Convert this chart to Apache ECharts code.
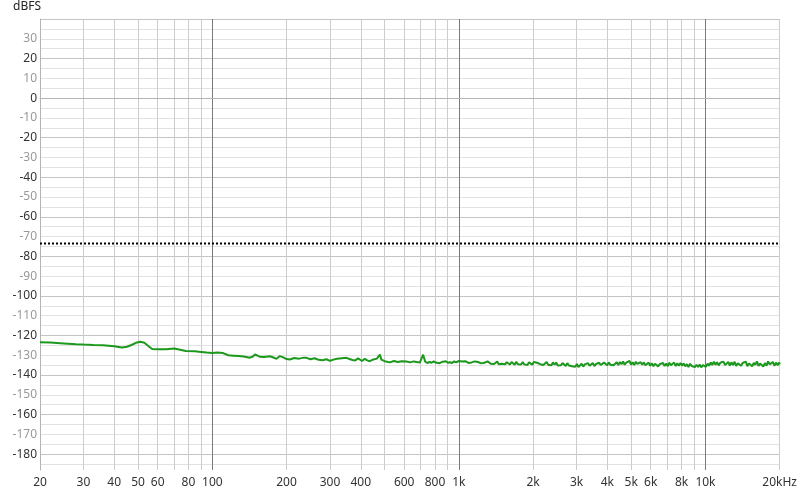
<!DOCTYPE html>
<html>
<head>
<meta charset="utf-8">
<script src="https://cdn.jsdelivr.net/npm/echarts@6/dist/echarts.min.js"></script>
<style>
html,body{margin:0;padding:0;background:#fff;}
#chart{width:800px;height:494px;}
</style>
</head>
<body>
<div id="chart"></div>
<script>
// Frequencies (Hz) of the measured curve
const freqs = [
  20, 22, 25, 28, 30, 33, 36, 40, 43, 45, 47, 49, 51, 53, 55, 57, 60, 65, 70, 74, 78, 85, 90, 95,
  100, 105, 110, 116, 122, 128, 134, 142, 146, 149, 152, 156, 162, 171, 176, 182, 188, 194, 200,
  206, 215, 225, 235, 241, 250, 260, 270, 280, 290, 300, 310, 320, 335, 350, 360, 370, 380, 390,
  396, 405, 415, 425, 435, 450, 465, 472, 478, 485, 500, 525, 545, 565, 585, 613, 635, 655, 675,
  695, 705, 716, 730, 745, 760, 775, 790, 805, 820, 836, 852, 868, 885, 902, 920, 938, 956, 975, 990,
  1000, 1015, 1030, 1046, 1061, 1077, 1093, 1110, 1126, 1143,
  1161, 1178, 1196, 1214, 1232, 1250, 1269, 1288, 1307, 1327,
  1347, 1367, 1388, 1408, 1430, 1451, 1473, 1495, 1517, 1540,
  1563, 1587, 1610, 1635, 1659, 1684, 1709, 1735, 1761, 1787,
  1814, 1841, 1869, 1897, 1925, 1954, 1984, 2013, 2044, 2074,
  2105, 2137, 2169, 2202, 2235, 2268, 2302, 2337, 2372, 2407,
  2443, 2480, 2517, 2555, 2593, 2632, 2672, 2712, 2752, 2794,
  2835, 2878, 2921, 2965, 3010, 3055, 3100, 3147, 3194, 3242,
  3291, 3340, 3390, 3441, 3493, 3545, 3598, 3652, 3707, 3762,
  3819, 3876, 3934, 3993, 4053, 4114, 4176, 4238, 4302, 4366,
  4432, 4498, 4566, 4634, 4704, 4774, 4846, 4919, 4993, 5067,
  5143, 5221, 5299, 5378, 5459, 5541, 5624, 5708, 5794, 5881,
  5969, 6059, 6150, 6242, 6336, 6431, 6527, 6625, 6724, 6825,
  6928, 7032, 7137, 7244, 7353, 7463, 7575, 7689, 7804, 7921,
  8040, 8161, 8283, 8407, 8534, 8662, 8792, 8923, 9057, 9193,
  9331, 9471, 9613, 9757, 9904, 10050, 10200, 10350, 10510, 10660,
  10820, 10990, 11150, 11320, 11490, 11660, 11830, 12010, 12190, 12370,
  12560, 12750, 12940, 13130, 13330, 13530, 13730, 13940, 14150, 14360,
  14570, 14790, 15010, 15240, 15470, 15700, 15930, 16170, 16420, 16660,
  16910, 17170, 17420, 17690, 17950, 18220, 18490, 18770, 19050, 19340,
  19630, 19920, 20000
];
// Level (dBFS) at each frequency
const levels = [
  -123.4, -123.6, -124.0, -124.4, -124.6, -124.8, -124.9, -125.4, -126.1, -125.7, -124.8, -123.7, -123.2, -123.7, -125.3, -126.8, -127.0, -126.9, -126.6, -127.2, -127.8, -128.0, -128.3, -128.6,
  -128.8, -128.6, -128.8, -130.0, -130.2, -130.4, -130.6, -131.2, -130.6, -129.6, -130.1, -130.8, -130.9, -130.5, -131.0, -131.8, -130.4, -131.1, -131.9,
  -132.1, -131.4, -131.7, -131.2, -131.3, -132.0, -131.5, -132.3, -132.5, -132.0, -132.8, -132.2, -131.8, -131.5, -131.3, -131.9, -132.4, -132.6, -131.6,
  -132.5, -132.9, -131.8, -132.6, -133.0, -132.1, -131.7, -130.8, -129.6, -132.2, -133.0, -133.6, -132.9, -133.4, -133.0, -133.2, -133.6, -133.1, -133.4,
  -133.6, -132.6, -129.7, -133.2, -133.9, -133.4, -133.8, -133.1, -133.7, -133.3, -134.0, -133.4, -133.7, -133.0, -133.8, -133.5, -133.9, -133.1, -133.6, -133.3,
  -132.9, -133.8, -133.2, -134.0, -133.0, -133.5, -133.9, -132.9, -133.6, -134.0,
  -133.1, -133.9, -133.4, -132.9, -134.1, -133.3, -133.8, -134.2, -133.1, -133.7,
  -134.3, -133.3, -134.4, -133.6, -133.2, -134.5, -133.8, -134.3, -133.3, -134.6,
  -133.5, -134.2, -134.7, -133.4, -134.0, -134.8, -133.3, -134.5, -133.9, -134.7,
  -133.4, -134.6, -133.9, -134.9, -133.5, -134.3, -134.8, -133.4, -134.4, -133.8,
  -133.3, -134.5, -133.7, -134.9, -134.1, -133.4, -134.8, -134.3, -135.0, -133.6,
  -134.8, -133.7, -135.2, -134.2, -135.1, -133.9, -134.6, -135.4, -134.0, -135.2,
  -134.2, -135.5, -134.6, -135.8, -134.4, -135.9, -135.0, -134.3, -135.7, -134.6,
  -135.4, -134.0, -135.3, -134.7, -133.9, -135.5, -134.4, -135.2, -133.8, -134.9,
  -135.2, -133.7, -134.6, -135.1, -133.6, -134.8, -133.9, -135.0, -134.2, -133.5,
  -134.9, -133.4, -134.5, -133.1, -134.8, -133.7, -134.3, -132.9, -134.7, -133.6,
  -134.9, -133.3, -134.4, -135.0, -133.5, -134.7, -133.6, -135.1, -134.1, -133.7,
  -135.3, -134.0, -135.5, -134.3, -133.8, -135.6, -134.5, -135.2, -133.9, -135.4,
  -134.2, -135.5, -133.8, -135.0, -134.6, -133.7, -135.4, -134.1, -135.3, -133.9,
  -135.2, -134.1, -135.6, -134.5, -135.9, -134.3, -135.4, -134.6, -136.0, -134.8,
  -135.9, -134.7, -136.1, -135.0, -134.5, -135.8, -134.2, -135.3, -133.6, -134.9,
  -133.3, -134.8, -133.5, -135.1, -133.8, -134.4, -133.2, -135.0, -134.1, -133.4,
  -135.2, -133.6, -134.9, -133.3, -135.4, -134.0, -133.5, -135.3, -133.9, -134.8,
  -133.2, -135.5, -134.1, -133.4, -135.6, -133.8, -134.9, -133.1, -135.4, -134.2,
  -133.3, -135.7, -134.0, -135.2, -133.1, -134.6, -135.6, -133.4, -135.3, -133.7,
  -135.1, -133.6, -134.6
];
// Dotted reference level (dBFS)
const referenceLevel = -73.5;
const freqRange = [20, 20000];
const dbRange = [-188, 40];
// Grid and label values
const xGridValues = [20, 30, 40, 50, 60, 70, 80, 90, 100, 200, 300, 400, 500, 600, 700, 800, 900,
  1000, 2000, 3000, 4000, 5000, 6000, 7000, 8000, 9000, 10000, 20000];
const xLabelValues = [20, 30, 40, 50, 60, 80, 100, 200, 300, 400, 600, 800, 1000, 2000, 3000, 4000,
  5000, 6000, 8000, 10000, 20000];
const yGridValues = [-185, -180, -175, -170, -165, -160, -155, -150, -145, -140, -135, -130, -125,
  -120, -115, -110, -105, -100, -95, -90, -85, -80, -75, -70, -65, -60, -55, -50, -45, -40, -35,
  -30, -25, -20, -15, -10, -5, 0, 5, 10, 15, 20, 25, 30, 35, 40];
const yLabelValues = [-180, -170, -160, -150, -140, -130, -120, -110, -100, -90, -80, -70, -60,
  -50, -40, -30, -20, -10, 0, 10, 20, 30];

const curve = freqs.map((f, i) => [f, levels[i]]);
const refLine = freqRange.map(f => [f, referenceLevel]);

const FONT = '"Noto Sans", "Open Sans", sans-serif';
const chart = echarts.init(document.getElementById('chart'), null, {renderer: 'canvas'});
chart.setOption({
  animation: false,
  backgroundColor: '#ffffff',
  grid: {left: 40, right: 20, top: 19, bottom: 24, containLabel: false},
  xAxis: {
    type: 'log',
    logBase: 10,
    min: freqRange[0],
    max: freqRange[1],
    axisLine: {show: true, lineStyle: {color: '#b4b4b4', width: 1}},
    axisTick: {show: false, customValues: xGridValues},
    axisLabel: {
      customValues: xLabelValues,
      color: '#333333',
      fontFamily: FONT,
      fontSize: 12,
      margin: 7,
      formatter: function (v) {
        if (v >= 20000) return (v / 1000) + 'kHz';
        if (v >= 1000) return (v / 1000) + 'k';
        return String(v);
      }
    },
    splitLine: {
      show: true,
      lineStyle: {
        color: ['#cccccc', '#cccccc', '#cccccc', '#cccccc', '#cccccc', '#cccccc', '#cccccc', '#cccccc', '#7a7a7a'],
        width: 1
      }
    }
  },
  yAxis: {
    type: 'value',
    min: dbRange[0],
    max: dbRange[1],
    axisLine: {show: true, lineStyle: {color: '#b4b4b4', width: 1}},
    axisTick: {show: false, customValues: yGridValues},
    axisLabel: {
      customValues: yLabelValues,
      fontFamily: FONT,
      fontSize: 12,
      margin: 3,
      color: function (v) {
        return (Number(v) % 20 === 0) ? '#333333' : '#999999';
      }
    },
    splitLine: {
      show: true,
      lineStyle: {color: ['#e2e2e2', '#c4c4c4', '#e2e2e2', '#e2e2e2'], width: 1}
    }
  },
  graphic: [{
    type: 'text',
    left: 13,
    top: 1,
    style: {text: 'dBFS', fill: '#222222', font: '12px ' + FONT}
  }],
  series: [
    {
      type: 'line',
      data: refLine,
      showSymbol: false,
      symbol: 'none',
      lineStyle: {color: '#000000', width: 2, type: [2, 2]},
      z: 3
    },
    {
      type: 'line',
      data: curve,
      showSymbol: false,
      symbol: 'none',
      lineStyle: {color: '#1c981c', width: 2},
      z: 4
    }
  ]
});
</script>
</body>
</html>
